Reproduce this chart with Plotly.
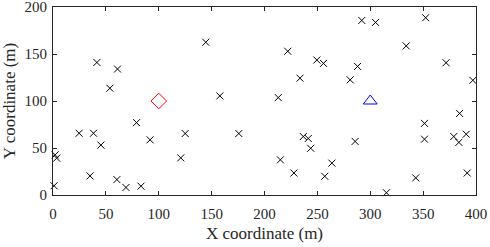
import plotly.graph_objects as go

# Node positions (m)
node_x = [1, 2, 3.5, 24.7, 38.3, 35, 41.5, 45.3, 53.8, 61, 60.4, 69, 79, 83.2, 91.8,
          120.8, 125, 144.5, 157.8, 175.7, 213, 215, 222, 227.8, 233.6, 236.7, 241.4,
          243.7, 249.5, 255.8, 257, 263.7, 281, 288, 285.7, 292, 305, 315.3, 334, 343,
          352.4, 351.3, 351.3, 371.7, 379, 384.5, 383.8, 390.8, 391.7, 397]
node_y = [9.8, 42.7, 39.2, 65.7, 65.7, 20.3, 141, 53.1, 113.6, 134, 16.4, 8, 77, 9.4, 58.7,
          39.5, 65.4, 162.5, 105.4, 65.4, 103.6, 37.4, 152.9, 23.4, 124.3, 62.2, 60.1,
          49.7, 143.6, 140, 19.9, 33.9, 122.5, 136.8, 57, 185.7, 183.6, 2.4, 158.6, 18.2,
          188.6, 76.2, 59.4, 140.7, 62.2, 86.8, 56, 64.7, 23.4, 122]

src_x = [100]
src_y = [100]
dst_x = [300]
dst_y = [100]

x_ticks = [0, 50, 100, 150, 200, 250, 300, 350, 400]
y_ticks = [0, 50, 100, 150, 200]

font_family = "Liberation Serif, Times New Roman, serif"
axis_color = "#262626"

fig = go.Figure()
fig.add_trace(go.Scatter(
    x=node_x, y=node_y, mode="markers", cliponaxis=False,
    marker=dict(symbol="x-thin", size=7, line=dict(color="black", width=1)),
    showlegend=False))
fig.add_trace(go.Scatter(
    x=src_x, y=src_y, mode="markers", cliponaxis=False,
    marker=dict(symbol="diamond-open", size=12, color="red", line=dict(width=1)),
    showlegend=False))
fig.add_trace(go.Scatter(
    x=dst_x, y=dst_y, mode="markers", cliponaxis=False,
    marker=dict(symbol="triangle-up-open", size=12, color="blue", line=dict(width=1)),
    showlegend=False))

common = dict(
    showgrid=False, zeroline=False, showline=True, linecolor=axis_color, linewidth=1,
    mirror="ticks", ticks="inside", ticklen=4, tickcolor=axis_color, tickwidth=1,
    ticklabeloverflow="allow",
    tickfont=dict(family=font_family, size=15, color=axis_color),
)
fig.update_xaxes(range=[0, 400], tickvals=x_ticks, ticktext=[str(v) for v in x_ticks],
                 ticklabelstandoff=5,
                 title=dict(text="X coordinate (m)", font=dict(family=font_family, size=17, color=axis_color), standoff=6),
                 **common)
fig.update_yaxes(range=[0, 200], tickvals=y_ticks, ticktext=[str(v) for v in y_ticks],
                 ticklabelstandoff=2,
                 title=dict(text="Y coordinate (m)", font=dict(family=font_family, size=17, color=axis_color), standoff=5),
                 **common)
fig.update_layout(
    width=490, height=247,
    margin=dict(l=53, r=14, t=7, b=52, autoexpand=False),
    plot_bgcolor="white", paper_bgcolor="white",
)
fig.write_html("out.html", config={"displayModeBar": False},
               post_script="document.body.style.margin='0';document.body.style.padding='0';")
